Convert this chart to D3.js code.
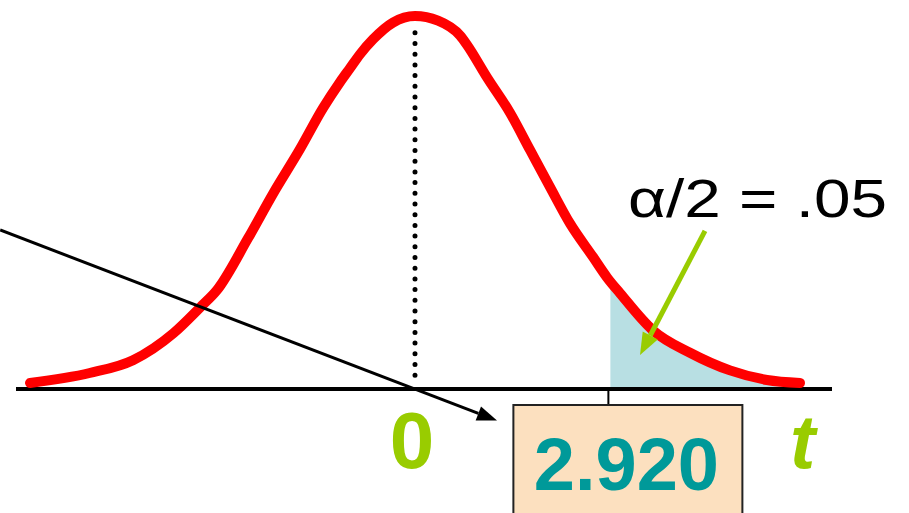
<!DOCTYPE html>
<html>
<head>
<meta charset="utf-8">
<script src="https://cdn.jsdelivr.net/npm/d3@7"></script>
<style>
  body { margin: 0; background: #fff; }
  svg { display: block; }
  text { font-family: "Liberation Sans", Arial, sans-serif; }
</style>
</head>
<body>
<div class="chart"></div>
<script>
// t values and curve heights
var tValues = [-4.00, -3.38, -2.93, -2.51, -2.23, -2.06, -1.735, -1.475, -1.195, -0.956,
               -0.779, -0.675, -0.571, -0.436, -0.229, 0,
               0.239, 0.468, 0.540, 0.748, 0.987, 1.195, 1.403, 1.610, 1.849, 1.995,
               2.130, 2.473, 2.857, 3.273, 3.657, 4.00];
var density = [0.0065, 0.0172, 0.031, 0.060, 0.088, 0.106, 0.162, 0.210, 0.258, 0.302,
               0.330, 0.345, 0.360, 0.376, 0.394, 0.401,
               0.396, 0.380, 0.370, 0.335, 0.297, 0.257, 0.217, 0.178, 0.142, 0.120,
               0.103, 0.063, 0.039, 0.020, 0.0097, 0.0065];

var critPos = 2.03;          // where the critical value sits on the axis
var critLabel = "2.920";
var centerLabel = "0";
var axisLabel = "t";
var tailLabel = "\u03b1/2 = .05";

// annotation arrows, in data units [t, density]
var blackArrow = [[-4.31, 0.171], [0.852, -0.034]];
var greenArrow = [[3.013, 0.170], [2.338, 0.0366]];

var width = 909, height = 513;

var x = d3.scaleLinear().domain([-4, 4]).range([30, 800]);
var y = d3.scaleLinear().domain([0, 0.4]).range([389, 17]);

var svg = d3.select(".chart").append("svg")
    .attr("width", width).attr("height", height);

var pts = tValues.map(function(t, i) { return {t: t, d: density[i]}; });

// shaded right tail
var tail = pts.filter(function(p) { return p.t >= critPos; });
var before = pts.filter(function(p) { return p.t < critPos; }).pop();
var after = tail[0];
var f = (critPos - before.t) / (after.t - before.t);
tail.unshift({t: critPos, d: before.d + f * (after.d - before.d)});

svg.append("path")
    .datum(tail)
    .attr("fill", "#b8dfe3")
    .attr("d", d3.area()
        .x(function(p) { return x(p.t); })
        .y0(y(0))
        .y1(function(p) { return y(p.d); })
        .curve(d3.curveMonotoneX));

// dotted centre line
svg.append("line")
    .attr("x1", x(0)).attr("x2", x(0))
    .attr("y1", y(0.383)).attr("y2", y(0.008))
    .attr("stroke", "#000")
    .attr("stroke-width", 5)
    .attr("stroke-linecap", "round")
    .attr("stroke-dasharray", "0,10.7");

// baseline
svg.append("line")
    .attr("x1", 16).attr("x2", 832)
    .attr("y1", y(0)).attr("y2", y(0))
    .attr("stroke", "#000").attr("stroke-width", 4);

// tick down to the box
svg.append("line")
    .attr("x1", x(critPos) - 2).attr("x2", x(critPos) - 2)
    .attr("y1", y(0)).attr("y2", 405)
    .attr("stroke", "#000").attr("stroke-width", 2);

// curve
svg.append("path")
    .datum(pts)
    .attr("fill", "none")
    .attr("stroke", "#ff0000")
    .attr("stroke-width", 10)
    .attr("stroke-linecap", "round")
    .attr("stroke-linejoin", "round")
    .attr("d", d3.line()
        .x(function(p) { return x(p.t); })
        .y(function(p) { return y(p.d); })
        .curve(d3.curveMonotoneX));

function arrow(a, color, w, headLen, headW) {
    var x1 = x(a[0][0]), y1 = y(a[0][1]), x2 = x(a[1][0]), y2 = y(a[1][1]);
    var ang = Math.atan2(y2 - y1, x2 - x1);
    var bx = x2 - headLen * Math.cos(ang), by = y2 - headLen * Math.sin(ang);
    svg.append("line")
        .attr("x1", x1).attr("y1", y1).attr("x2", bx).attr("y2", by)
        .attr("stroke", color).attr("stroke-width", w);
    var nx = -Math.sin(ang) * headW / 2, ny = Math.cos(ang) * headW / 2;
    svg.append("polygon")
        .attr("points", [[x2, y2], [bx + nx, by + ny], [bx - nx, by - ny]].join(" "))
        .attr("fill", color);
}

arrow(blackArrow, "#000", 3, 20, 15);
arrow(greenArrow, "#99cc00", 5, 22, 17);

// critical value box
svg.append("rect")
    .attr("x", x(critPos) - 97).attr("y", 405)
    .attr("width", 229).attr("height", 120)
    .attr("fill", "#fce0bf")
    .attr("stroke", "#222").attr("stroke-width", 2);

svg.append("text")
    .attr("x", x(critPos) + 16).attr("y", 490)
    .attr("text-anchor", "middle")
    .attr("font-size", 74).attr("font-weight", "bold")
    .attr("fill", "#009999")
    .text(critLabel);

svg.append("text")
    .attr("x", x(0) - 3).attr("y", 468)
    .attr("text-anchor", "middle")
    .attr("font-size", 80).attr("font-weight", "bold")
    .attr("fill", "#99cc00")
    .text(centerLabel);

svg.append("text")
    .attr("x", 790).attr("y", 468)
    .attr("font-size", 76).attr("font-weight", "bold").attr("font-style", "italic")
    .attr("fill", "#99cc00")
    .text(axisLabel);

svg.append("text")
    .attr("x", 628).attr("y", 217)
    .attr("font-size", 54)
    .attr("textLength", 259).attr("lengthAdjust", "spacingAndGlyphs")
    .attr("fill", "#000")
    .text(tailLabel);
</script>
</body>
</html>
